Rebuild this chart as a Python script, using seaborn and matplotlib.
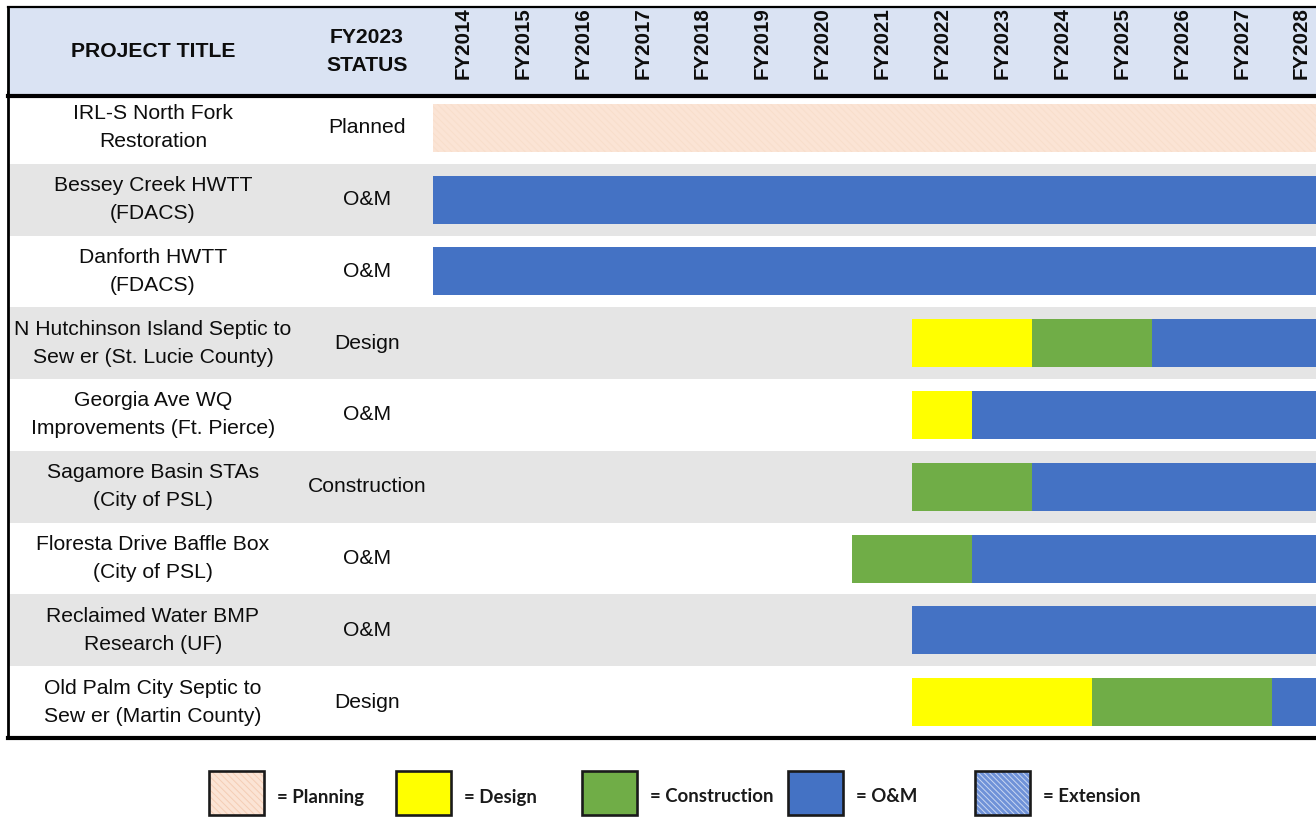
import matplotlib
matplotlib.use("Agg")
import matplotlib.pyplot as plt
from matplotlib.patches import Rectangle
import seaborn as sns

# ---- data -------------------------------------------------------------
projects = [
    "IRL-S North Fork\nRestoration",
    "Bessey Creek HWTT\n(FDACS)",
    "Danforth HWTT\n(FDACS)",
    "N Hutchinson Island Septic to\nSew er (St. Lucie County)",
    "Georgia Ave WQ\nImprovements (Ft. Pierce)",
    "Sagamore Basin STAs\n(City of PSL)",
    "Floresta Drive Baffle Box\n(City of PSL)",
    "Reclaimed Water BMP\nResearch (UF)",
    "Old Palm City Septic to\nSew er (Martin County)",
]
statuses = ["Planned", "O&M", "O&M", "Design", "O&M", "Construction",
            "O&M", "O&M", "Design"]
year_labels = ["FY2014", "FY2015", "FY2016", "FY2017", "FY2018", "FY2019",
               "FY2020", "FY2021", "FY2022", "FY2023", "FY2024", "FY2025",
               "FY2026", "FY2027", "FY2028"]
first_year = 2014

# one entry per schedule segment (end year is exclusive)
seg_project = [0, 1, 2, 3, 3, 3, 4, 4, 5, 5, 6, 6, 7, 8, 8, 8]
seg_phase = ["Planning", "O&M", "O&M",
             "Design", "Construction", "O&M",
             "Design", "O&M",
             "Construction", "O&M",
             "Construction", "O&M",
             "O&M",
             "Design", "Construction", "O&M"]
seg_start = [2014, 2014, 2014, 2022, 2024, 2026, 2022, 2023, 2022, 2024,
             2021, 2023, 2022, 2022, 2025, 2028]
seg_end = [2029, 2029, 2029, 2024, 2026, 2029, 2023, 2029, 2024, 2029,
           2023, 2029, 2029, 2025, 2028, 2029]

legend_labels = ["= Planning", "= Design", "= Construction", "= O&M", "= Extension"]

# ---- styling ----------------------------------------------------------
phase_colors = {
    "Planning": "#FBE4D5",
    "Design": "#FFFF00",
    "Construction": "#70AD47",
    "O&M": "#4472C4",
}
band_gray = "#E5E5E5"
header_bg = "#DAE3F3"
ink = "#0d0d0d"

sns.set_theme(style="white")
plt.rcParams["font.family"] = ["Liberation Sans", "DejaVu Sans"]
plt.rcParams["hatch.linewidth"] = 0.7

W, H, DPI = 1316, 817, 100
fig = plt.figure(figsize=(W / DPI, H / DPI), dpi=DPI)
fig.patch.set_facecolor("white")

# x in "years since FY2014"; one year column is ~60 px wide
px_per_year = 59.9
table_left_px, years_left_px = 8, 433
x_min = -(years_left_px - table_left_px) / px_per_year
x_max = (W - years_left_px) / px_per_year

body_top, body_bottom = 92, 738
head_top, head_bottom = 7, 96
line_gap = 1.6

# ---- body rows --------------------------------------------------------
ax = fig.add_axes([table_left_px / W, (H - body_bottom) / H,
                   (W - table_left_px) / W, (body_bottom - body_top) / H])

for i in range(len(projects)):
    if i % 2 == 1:
        ax.axhspan(i - 0.5, i + 0.5, color=band_gray, lw=0, zorder=0)

for p, ph, s, e in zip(seg_project, seg_phase, seg_start, seg_end):
    if ph == "Planning":
        extra = dict(hatch="\\\\\\\\\\", edgecolor="#F8DECB")
    else:
        extra = dict(edgecolor="none")
    sns.barplot(x=[e - s], y=[projects[p]], order=projects, orient="y",
                left=s - first_year, color=phase_colors[ph], saturation=1,
                width=0.67, linewidth=0, ax=ax, zorder=3, **extra)

ax.set_xlim(x_min, x_max)
ax.set_ylim(len(projects) - 0.5, -0.5)
ax.set_xticks([])
ax.set_yticks([])
ax.set_xlabel("")
ax.set_ylabel("")
ax.set_facecolor("white")

title_x = x_min + (153 - table_left_px) / px_per_year
status_x = (367 - years_left_px) / px_per_year
for i, (name, st) in enumerate(zip(projects, statuses)):
    ax.text(title_x, i, name, ha="center", va="center", ma="center",
            fontsize=15.2, linespacing=line_gap, color=ink, zorder=5)
    ax.text(status_x, i, st, ha="center", va="center", fontsize=15.2,
            color=ink, zorder=5)

ax.spines["right"].set_visible(False)
ax.spines["top"].set_visible(False)
ax.spines["left"].set_linewidth(2.0)
ax.spines["bottom"].set_linewidth(3.0)
for side in ["left", "bottom"]:
    ax.spines[side].set_color("black")
    ax.spines[side].set_zorder(6)

# ---- header -----------------------------------------------------------
hx = fig.add_axes([table_left_px / W, (H - head_bottom) / H,
                   (W - table_left_px) / W, (head_bottom - head_top) / H])
hx.set_facecolor(header_bg)
hx.set_xlim(x_min, x_max)
hx.set_ylim(0, 1)
hx.set_xticks([])
hx.set_yticks([])
hx.spines["right"].set_visible(False)
hx.spines["left"].set_linewidth(2.0)
hx.spines["top"].set_linewidth(1.6)
hx.spines["bottom"].set_linewidth(3.0)
for side in ["left", "top", "bottom"]:
    hx.spines[side].set_color("black")

hx.text(title_x, 0.5, "PROJECT TITLE", ha="center", va="center",
        fontsize=15.2, fontweight="bold", color=ink)
hx.text(status_x, 0.5, "FY2023\nSTATUS", ha="center", va="center",
        ma="center", fontsize=15.2, fontweight="bold", linespacing=line_gap,
        color=ink)
for i, lab in enumerate(year_labels):
    hx.text(i + 0.5, 0.595, lab, rotation=90, ha="center", va="center",
            fontsize=14.8, fontweight="bold", color=ink)

# ---- legend -----------------------------------------------------------
lx = fig.add_axes([0, 0, 1, (H - 745) / H])
lx.set_xlim(0, W)
lx.set_ylim(H, 745)
lx.axis("off")

key_left = [209, 396, 582, 788, 975]
key_face = ["#FBE4D5", "#FFFF00", "#70AD47", "#4472C4", "#6F92D8"]
key_hatch = ["\\\\\\\\\\", None, None, None, "\\\\\\\\\\\\"]
key_hatch_col = ["#F4CDB4", None, None, None, "#C9D7F2"]
for xl, fc, ht, hc, lab in zip(key_left, key_face, key_hatch, key_hatch_col,
                               legend_labels):
    if ht:
        lx.add_patch(Rectangle((xl, 771), 55, 44, facecolor=fc, hatch=ht,
                               edgecolor=hc, lw=0))
        lx.add_patch(Rectangle((xl, 771), 55, 44, facecolor="none",
                               edgecolor="#1a1a1a", lw=1.9))
    else:
        lx.add_patch(Rectangle((xl, 771), 55, 44, facecolor=fc,
                               edgecolor="#1a1a1a", lw=1.9))
    lx.text(xl + 68, 797, lab, ha="left", va="center", fontsize=13.4,
            fontweight="bold", family=["Lato", "DejaVu Sans"],
            color="#1a1a1a")

fig.savefig("out.png", dpi=DPI, facecolor="white")
